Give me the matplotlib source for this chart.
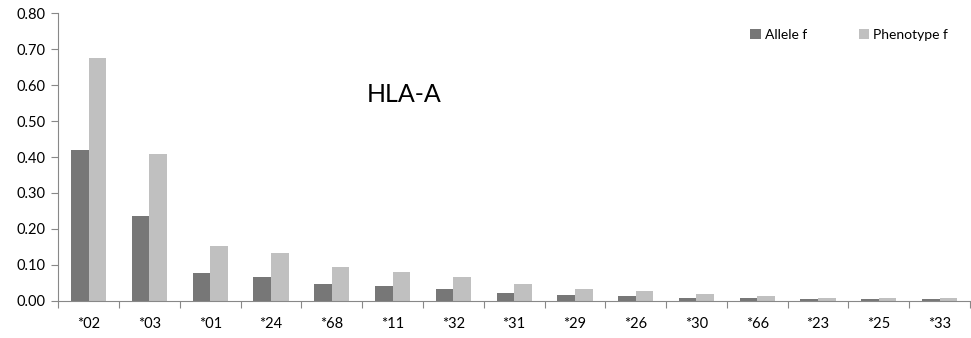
import matplotlib
matplotlib.use("Agg")
import matplotlib.pyplot as plt
import numpy as np

categories = ["*02", "*03", "*01", "*24", "*68", "*11", "*32", "*31", "*29", "*26", "*30", "*66", "*23", "*25", "*33"]
allele_f = [0.420, 0.237, 0.076, 0.067, 0.046, 0.041, 0.032, 0.023, 0.017, 0.013, 0.009, 0.0065, 0.004, 0.004, 0.004]
phenotype_f = [0.674, 0.408, 0.153, 0.133, 0.093, 0.081, 0.067, 0.046, 0.032, 0.026, 0.020, 0.013, 0.0065, 0.007, 0.007]
yticks = [0.0, 0.1, 0.2, 0.3, 0.4, 0.5, 0.6, 0.7, 0.8]

plt.rcParams['font.family'] = ['Lato', 'DejaVu Sans']

fig = plt.figure(figsize=(9.71, 3.38), dpi=100)
ax = fig.add_axes([0.060, 0.110, 0.939, 0.851])

x = np.arange(len(categories))
w = 0.29
ax.bar(x - w/2, allele_f, w, color="#777777", label="Allele f")
ax.bar(x + w/2, phenotype_f, w, color="#c0c0c0", label="Phenotype f")

ax.set_xlim(-0.5, len(categories) - 0.5)
ax.set_ylim(0, 0.8)
ax.set_yticks(yticks)
ax.set_yticklabels([f"{v:.2f}" for v in yticks], fontsize=10.5)
ax.set_xticks(x)
ax.set_xticklabels(categories, fontsize=10.5)
ax.set_xticks(np.arange(-0.5, len(categories), 1.0), minor=True)
ax.tick_params(axis='x', which='major', length=0, pad=12)
ax.tick_params(axis='x', which='minor', length=5, color="#888888", width=0.8)
ax.tick_params(axis='y', length=5, color="#888888", width=0.8, pad=4)

for s in ["top", "right"]:
    ax.spines[s].set_visible(False)
for s in ["left", "bottom"]:
    ax.spines[s].set_color("#888888")
    ax.spines[s].set_linewidth(0.8)

leg = ax.legend(loc="upper left", bbox_to_anchor=(0.753, 0.965), ncol=2, frameon=False,
                fontsize=10, handlelength=0.75, handleheight=0.75, handletextpad=0.3,
                columnspacing=3.7, borderaxespad=0)

fig.text(0.4166, 0.719, "HLA-A", fontsize=18, ha="center", va="center")

fig.savefig("out.png", dpi=100)
